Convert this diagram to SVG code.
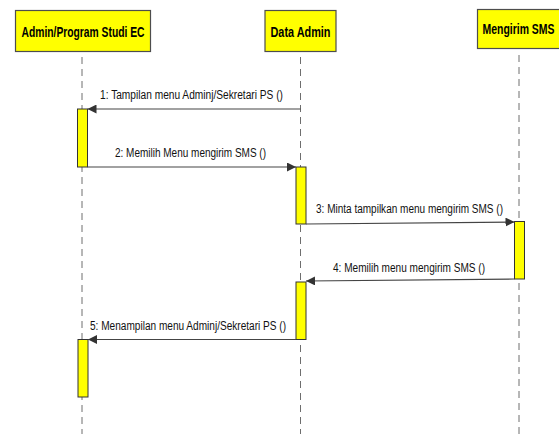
<svg xmlns="http://www.w3.org/2000/svg" width="559" height="434" viewBox="0 0 559 434">
  <style>
    .head { fill: #ffff00; stroke: #4d4d4d; stroke-width: 1.2; }
    .head-text { font-family: "Liberation Sans", Arial, sans-serif; font-weight: bold; font-size: 14px; fill: #000; }
    .life { stroke: #6e6e6e; stroke-width: 1; stroke-dasharray: 7 5; fill: none; }
    .act { fill: #ffff00; stroke: #333; stroke-width: 1; }
    .msg { stroke: #444; stroke-width: 1.2; fill: none; marker-end: url(#tip); }
    .label { font-family: "Liberation Sans", Arial, sans-serif; font-size: 12px; fill: #111; }
  </style>
  <defs>
    <marker id="tip" viewBox="0 0 10 10" refX="10" refY="5" markerWidth="9" markerHeight="9" markerUnits="userSpaceOnUse" orient="auto">
      <path d="M0,0 L10,5 L0,10 z" fill="#333"/>
    </marker>
  </defs>
  <rect width="559" height="434" fill="#fff"/>

  <!-- lifelines -->
  <g id="lifelines">
    <line class="life" x1="82" y1="57" x2="82" y2="434"/>
    <line class="life" x1="300.5" y1="57" x2="300.5" y2="434"/>
    <line class="life" x1="519" y1="55" x2="519" y2="434"/>
  </g>

  <!-- participants -->
  <g id="admin-ps">
    <rect class="head" x="15.5" y="10.5" width="135" height="41"/>
    <text class="head-text" x="83" y="37" text-anchor="middle" textLength="123" lengthAdjust="spacingAndGlyphs">Admin/Program Studi EC</text>
  </g>
  <g id="data-admin">
    <rect class="head" x="265" y="10.5" width="71" height="41"/>
    <text class="head-text" x="300.5" y="37" text-anchor="middle" textLength="60" lengthAdjust="spacingAndGlyphs">Data Admin</text>
  </g>
  <g id="mengirim-sms">
    <rect class="head" x="477.5" y="9.5" width="86" height="39"/>
    <text class="head-text" x="518.5" y="34" text-anchor="middle" textLength="72" lengthAdjust="spacingAndGlyphs">Mengirim SMS</text>
  </g>

  <!-- activation bars -->
  <g id="activations">
    <rect class="act" x="77.5" y="109" width="10" height="58"/>
    <rect class="act" x="296" y="167" width="10" height="57"/>
    <rect class="act" x="514.5" y="221.5" width="10" height="57.5"/>
    <rect class="act" x="296" y="282" width="10" height="57.5"/>
    <rect class="act" x="78" y="339.5" width="10" height="57.5"/>
  </g>

  <!-- messages -->
  <g id="connectors">
    <line class="msg" x1="300.5" y1="109" x2="87.5" y2="109"/>
    <line class="msg" x1="87.5" y1="167" x2="296" y2="167"/>
    <line class="msg" x1="306" y1="224" x2="514.5" y2="222"/>
    <line class="msg" x1="514.5" y1="279" x2="306" y2="281"/>
    <line class="msg" x1="296" y1="339.5" x2="88" y2="339.5"/>
  </g>

  <g id="labels">
    <text class="label" x="100" y="99" textLength="183" lengthAdjust="spacingAndGlyphs">1: Tampilan menu Adminj/Sekretari PS ()</text>
    <text class="label" x="115" y="157" textLength="151" lengthAdjust="spacingAndGlyphs">2: Memilih Menu mengirim SMS ()</text>
    <text class="label" x="316" y="213" textLength="187" lengthAdjust="spacingAndGlyphs">3: Minta tampilkan menu mengirim SMS ()</text>
    <text class="label" x="333" y="271.5" textLength="152" lengthAdjust="spacingAndGlyphs">4: Memilih menu mengirim SMS ()</text>
    <text class="label" x="90" y="330" textLength="196" lengthAdjust="spacingAndGlyphs">5: Menampilan menu Adminj/Sekretari PS ()</text>
  </g>
</svg>
